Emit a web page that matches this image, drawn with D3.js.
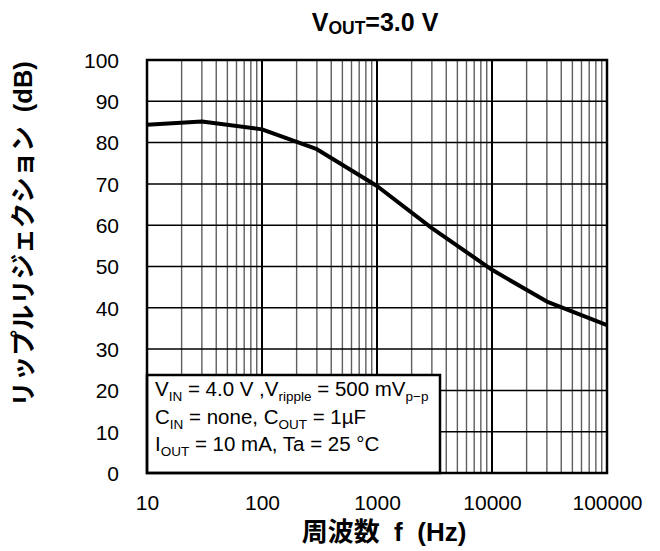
<!DOCTYPE html>
<html>
<head>
<meta charset="utf-8">
<script src="https://cdn.jsdelivr.net/npm/d3@7"></script>
<style>
  body { margin: 0; background: #fff; }
  svg { display: block; font-family: "Liberation Sans", Arial, sans-serif; }
  .jp { font-family: "Liberation Sans", "Noto Sans CJK JP", sans-serif; }
</style>
</head>
<body>
<svg width="660" height="551"></svg>
<script>
// frequency (Hz) and ripple rejection (dB)
const freq = [10, 30, 100, 300, 1000, 3000, 10000, 30000, 100000];
const rr   = [84.3, 85.1, 83.2, 78.4, 69.5, 59.3, 49.2, 41.5, 35.8];
const xTicks = [10, 100, 1000, 10000, 100000];
const yTicks = [0, 10, 20, 30, 40, 50, 60, 70, 80, 90, 100];

const svg = d3.select('svg');
const m = { left: 147, right: 607, top: 60, bottom: 473 };

const x = d3.scaleLog().domain([10, 100000]).range([m.left, m.right]);
const y = d3.scaleLinear().domain([0, 100]).range([m.bottom, m.top]);

svg.append('defs').append('clipPath').attr('id', 'plot')
  .append('rect')
  .attr('x', m.left).attr('y', m.top)
  .attr('width', m.right - m.left).attr('height', m.bottom - m.top);

// minor vertical grid lines
const minors = [];
for (let d = 10; d < 100000; d *= 10) {
  for (let k = 2; k <= 9; k++) minors.push(d * k);
}
svg.append('g').selectAll('line').data(minors).join('line')
  .attr('x1', d => x(d)).attr('x2', d => x(d))
  .attr('y1', m.top).attr('y2', m.bottom)
  .attr('stroke', '#5e5e5e').attr('stroke-width', 1.4);

// horizontal grid
svg.append('g').selectAll('line').data(yTicks).join('line')
  .attr('x1', m.left).attr('x2', m.right)
  .attr('y1', d => y(d)).attr('y2', d => y(d))
  .attr('stroke', '#000').attr('stroke-width', 1.5);

// decade lines
svg.append('g').selectAll('line').data(xTicks).join('line')
  .attr('x1', d => x(d)).attr('x2', d => x(d))
  .attr('y1', m.top).attr('y2', m.bottom)
  .attr('stroke', '#000').attr('stroke-width', 2);

// condition box
const box = svg.append('g');
box.append('rect')
  .attr('x', m.left).attr('y', 375)
  .attr('width', 293).attr('height', m.bottom - 375)
  .attr('fill', '#fff').attr('stroke', '#000').attr('stroke-width', 2.5);

const lines = [
  [['V', 0], ['IN', 1], [' = 4.0 V ,V', 0], ['ripple', 1], [' = 500 mV', 0], ['p\u2212p', 1]],
  [['C', 0], ['IN', 1], [' = none, C', 0], ['OUT', 1], [' = 1\u00b5F', 0]],
  [['I', 0], ['OUT', 1], [' = 10 mA, Ta = 25 \u00b0C', 0]]
];
lines.forEach((parts, i) => {
  const t = box.append('text')
    .attr('x', 155).attr('y', 396 + i * 27.5)
    .attr('font-size', 20.5)
    .style('white-space', 'pre');
  let sub = false;
  parts.forEach(([s, isSub]) => {
    const ts = t.append('tspan').text(s);
    if (isSub && !sub) ts.attr('dy', 5).attr('font-size', 13.5);
    else if (isSub) ts.attr('font-size', 13.5);
    else if (!isSub && sub) ts.attr('dy', -5);
    sub = !!isSub;
  });
});

// curve
svg.append('path')
  .datum(freq.map((f, i) => [f, rr[i]]))
  .attr('clip-path', 'url(#plot)')
  .attr('fill', 'none')
  .attr('stroke', '#000')
  .attr('stroke-width', 4)
  .attr('stroke-linejoin', 'round')
  .attr('d', d3.line().x(d => x(d[0])).y(d => y(d[1])));

// frame
svg.append('rect')
  .attr('x', m.left).attr('y', m.top)
  .attr('width', m.right - m.left).attr('height', m.bottom - m.top)
  .attr('fill', 'none').attr('stroke', '#000').attr('stroke-width', 2.5);

// axes labels
const xAxis = d3.axisBottom(x).tickValues(xTicks).tickFormat(d3.format('d')).tickSize(0).tickPadding(0);
svg.append('g')
  .attr('transform', `translate(0,${m.bottom})`)
  .call(xAxis)
  .call(g => g.select('.domain').remove())
  .selectAll('text')
  .attr('dy', null).attr('y', 37)
  .attr('font-size', 21).attr('font-family', null).attr('fill', '#000');

const yAxis = d3.axisLeft(y).tickValues(yTicks).tickSize(0).tickPadding(0);
svg.append('g')
  .attr('transform', `translate(119,0)`)
  .call(yAxis)
  .call(g => g.select('.domain').remove())
  .selectAll('text')
  .attr('x', 0).attr('dy', '0.35em')
  .attr('font-size', 21).attr('font-family', null).attr('fill', '#000');

// title
svg.append('text')
  .attr('x', (m.left + m.right) / 2 - 2).attr('y', 31)
  .attr('text-anchor', 'middle')
  .attr('font-size', 25).attr('font-weight', 'bold')
  .call(t => {
    t.append('tspan').text('V');
    t.append('tspan').text('OUT').attr('font-size', 17.5).attr('dy', 3);
    t.append('tspan').text('=3.0 V').attr('dy', -3);
  });

svg.append('text')
  .attr('class', 'jp')
  .attr('x', 384).attr('y', 541)
  .attr('text-anchor', 'middle')
  .attr('font-size', 26).attr('font-weight', 'bold')
  .style('white-space', 'pre')
  .text('周波数  f  (Hz)');

svg.append('text')
  .attr('class', 'jp')
  .attr('transform', `translate(32,234) rotate(-90)`)
  .attr('text-anchor', 'middle')
  .attr('font-size', 25.5).attr('font-weight', 'bold')
  .style('white-space', 'pre')
  .text('リップルリジェクション  (dB)');
</script>
</body>
</html>
